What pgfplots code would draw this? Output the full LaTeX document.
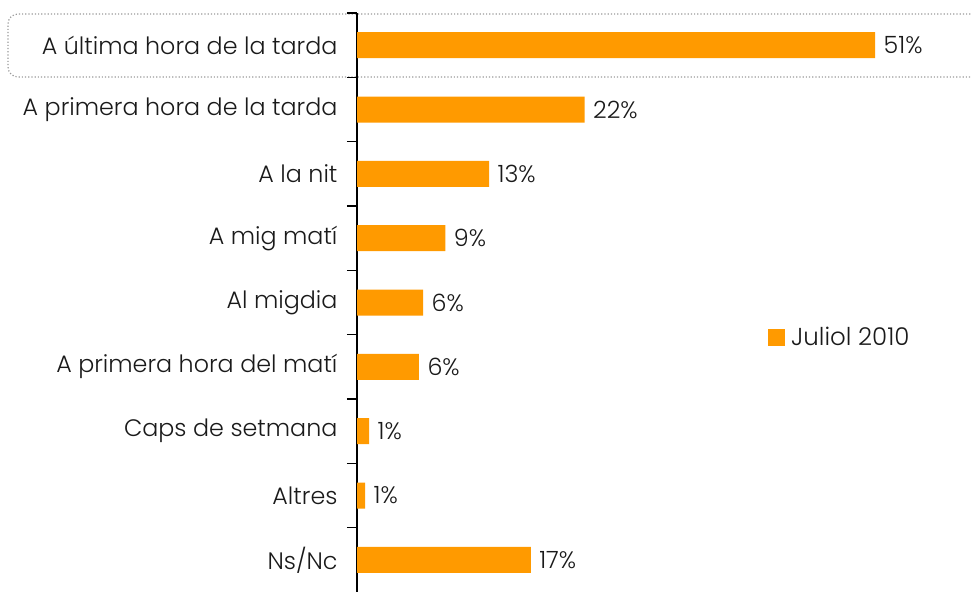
\documentclass[border=0pt]{standalone}
\usepackage{fontspec}
\setmainfont{Poppins}[UprightFont=* Light]
\usepackage{pgfplots}
\pgfplotsset{compat=1.18}
\definecolor{barorange}{HTML}{FF9A00}
\definecolor{txt}{HTML}{1A1A1A}
\begin{document}
\begin{tikzpicture}[x=1pt,y=1pt]
\path[use as bounding box] (0,0) rectangle (972,592);
% highlight round the first category
\draw[gray!80, dotted, line width=1.2pt, rounded corners=10pt]
  (980,578) -- (8,578) -- (8,515) -- (980,515);
\begin{axis}[
  at={(357pt,0pt)}, anchor=south west,
  scale only axis, width=600pt, height=579pt,
  xbar, bar width=26pt,
  xmin=0, xmax=59.05,
  ymin=-0.5, ymax=8.5, y dir=reverse,
  hide x axis, axis y line*=left,
  axis line style={line width=1.5pt, black},
  ytick={0,...,8},
  yticklabels={A última hora de la tarda, A primera hora de la tarda, A la nit,
    A mig matí, Al migdia, A primera hora del matí, Caps de setmana, Altres, Ns/Nc},
  major tick length=0pt,
  minor ytick={-0.5,0.5,...,7.5}, minor tick length=10pt, tick align=outside,
  minor tick style={line width=1.5pt, black},
  yticklabel style={font=\fontsize{23.8}{28}\selectfont, text=txt, xshift=-16pt},
  point meta=explicit symbolic,
  nodes near coords,
  nodes near coords style={anchor=west, xshift=5pt, font=\fontsize{23.8}{28}\selectfont, text=txt},
  legend style={at={(0.68,0.44)}, anchor=west, draw=none, fill=none,
    font=\fontsize{24.5}{28}\selectfont, text=txt},
  legend image code/.code={\fill[#1] (0pt,-8.5pt) rectangle (17pt,8.5pt); \path (21pt,0pt);},
]
\addplot[fill=barorange, draw=none] coordinates {
  (51.0,0) [51\%]
  (22.4,1) [22\%]
  (13.0,2) [13\%]
  (8.7,3) [9\%]
  (6.5,4) [6\%]
  (6.1,5) [6\%]
  (1.2,6) [1\%]
  (0.8,7) [1\%]
  (17.1,8) [17\%]
};
\legend{Juliol 2010}
\end{axis}
\end{tikzpicture}
\end{document}
